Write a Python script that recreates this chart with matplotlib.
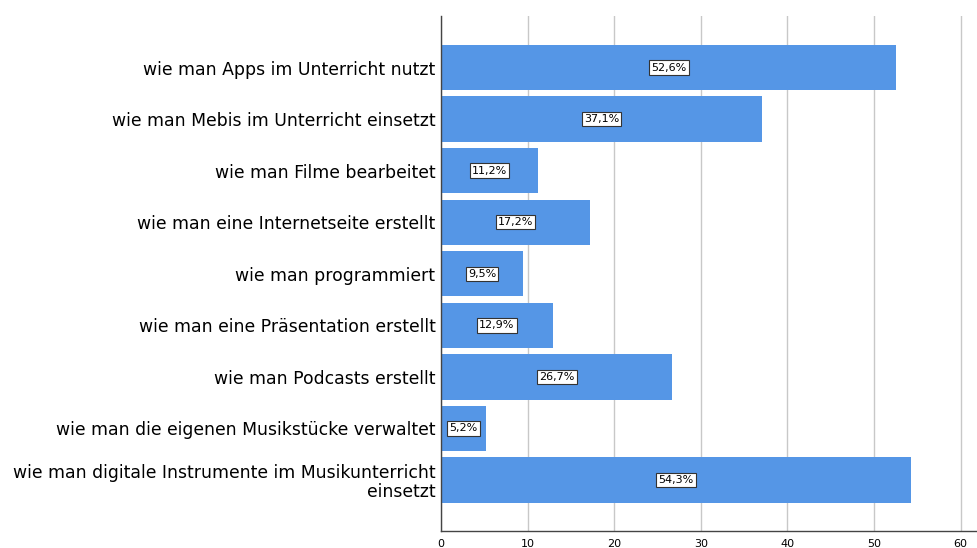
import numpy as np
import matplotlib.pyplot as plt

#************ data ******************
categories = ['wie man Apps im Unterricht nutzt',
              'wie man Mebis im Unterricht einsetzt',
              'wie man Filme bearbeitet',
              'wie man eine Internetseite erstellt',
              'wie man programmiert',
              'wie man eine Präsentation erstellt',
              'wie man Podcasts erstellt',
              'wie man die eigenen Musikstücke verwaltet',
              'wie man digitale Instrumente im Musikunterricht\neinsetzt']
values = [52.6, 37.1, 11.2, 17.2, 9.5, 12.9, 26.7, 5.2, 54.3]
xticks = [0, 10, 20, 30, 40, 50, 60]
#************************************

bar_color = '#5596E6'

fig = plt.figure(figsize=(9.77, 5.48), dpi=100)
ax = fig.add_axes([441/977, 1-531/548, 1-441/977, (531-16)/548])

y = np.arange(len(categories))
ax.barh(y, values, height=0.88, color=bar_color, zorder=2)

for yi, v in zip(y, values):
    lab = ('%.1f' % v).replace('.', ',') + '%'
    ax.text(v/2, yi, lab, ha='center', va='center', fontsize=8, zorder=3,
            bbox=dict(boxstyle='square,pad=0.2', fc='white', ec='#333333', lw=0.8))

ax.set_yticks(y)
ax.set_yticklabels(categories, fontsize=12.4, linespacing=1.05)
ax.set_ylim(8.99, -1.0)
ax.set_xlim(0, 61.9)
ax.set_xticks(xticks)
ax.set_xticklabels([str(t) for t in xticks], fontsize=8)
ax.tick_params(length=0)
ax.tick_params(axis='x', pad=6)
ax.tick_params(axis='y', pad=4)
ax.grid(axis='x', color='#c8c8c8', lw=1, zorder=0)
ax.set_axisbelow(True)
for s in ['top', 'right']:
    ax.spines[s].set_visible(False)
for s in ['left', 'bottom']:
    ax.spines[s].set_color('#444444')
    ax.spines[s].set_linewidth(1)

fig.savefig('out.png', dpi=100)
